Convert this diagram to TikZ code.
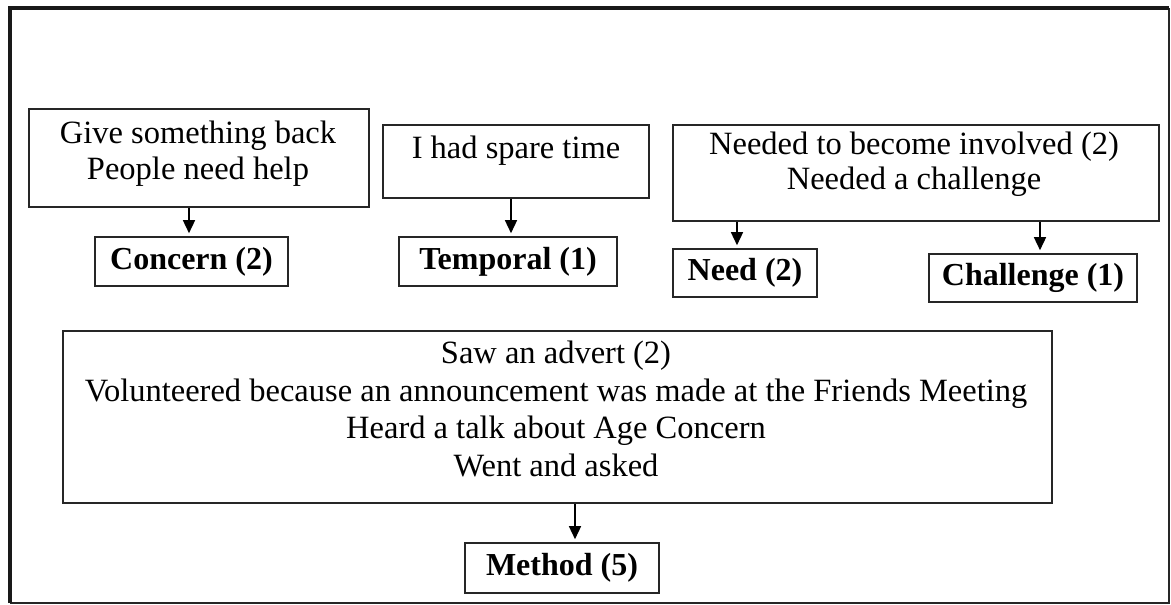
\documentclass[tikz,border=0pt]{standalone}
\usepackage{fontspec}
\setmainfont{Liberation Serif}
\usetikzlibrary{arrows.meta}
\begin{document}
\begin{tikzpicture}[x=1pt,y=-1pt,
  framebox/.style={draw=black!85, line width=1.6pt, rectangle, inner sep=0pt},
  reason/.style={inner sep=0pt, align=center, anchor=base, font=\fontsize{32.5}{37.5}\selectfont},
  category/.style={draw=black!85, line width=1.6pt, rectangle, inner sep=0pt,
    font=\fontsize{32}{37}\selectfont\bfseries},
  flow/.style={line width=1.5pt, -{Triangle[length=13pt,width=12pt]}, shorten >=3pt}]
\useasboundingbox (0,0) rectangle (1171,605);
% outer frame: heavier on the top and left edges
\coordinate (tl) at (10,8);
\coordinate (tr) at (1169,8);
\coordinate (br) at (1169,603);
\coordinate (bl) at (10,603);
\draw[line width=2pt, black!85] (tr) -- (br) -- (bl);
\draw[line width=4.5pt, black!90] (bl) -- (tl) -- (tr);

% reason boxes
\node[framebox, minimum width=340pt, minimum height=98pt] (b1) at (199,158) {};
\node[reason, font=\fontsize{32.5}{36}\selectfont] (t1) at (198,179) {Give something back\\People need help};
\node[framebox, minimum width=266pt, minimum height=73pt] (b2) at (516,161.5) {};
\node[reason] (t2) at (516,158) {I had spare time};
\node[framebox, minimum width=486pt, minimum height=96pt] (b3) at (916,173) {};
\node[reason, font=\fontsize{32.5}{35}\selectfont] (t3) at (914,189) {Needed to become involved (2)\\Needed a challenge};
\node[framebox, minimum width=989pt, minimum height=172pt] (b4) at (557.5,417) {};
\node[reason] (t4) at (556,476) {Saw an advert (2)\\Volunteered because an announcement was made at the Friends Meeting\\Heard a talk about Age Concern\\Went and asked};

% categories
\node[category, minimum width=193pt, minimum height=49pt] (c1) at (191.5,261.5) {Concern (2)};
\node[category, minimum width=218pt, minimum height=49pt] (c2) at (508,261.5) {Temporal (1)};
\node[category, minimum width=144pt, minimum height=48pt] (c3) at (745,273) {Need (2)};
\node[category, minimum width=208pt, minimum height=48pt] (c4) at (1033,278) {Challenge (1)};
\node[category, minimum width=194pt, minimum height=50pt] (c5) at (562,568) {Method (5)};

% arrows
\draw[flow] ([xshift=-2.5pt]c1.north |- b1.south) -- ([xshift=-2.5pt]c1.north);
\draw[flow] ([xshift=3pt]c2.north |- b2.south) -- ([xshift=3pt]c2.north);
\draw[flow] ([xshift=-8pt]c3.north |- b3.south) -- ([xshift=-8pt]c3.north);
\draw[flow] ([xshift=7pt]c4.north |- b3.south) -- ([xshift=7pt]c4.north);
\draw[flow] ([xshift=13pt]c5.north |- b4.south) -- ([xshift=13pt]c5.north);
\end{tikzpicture}
\end{document}
